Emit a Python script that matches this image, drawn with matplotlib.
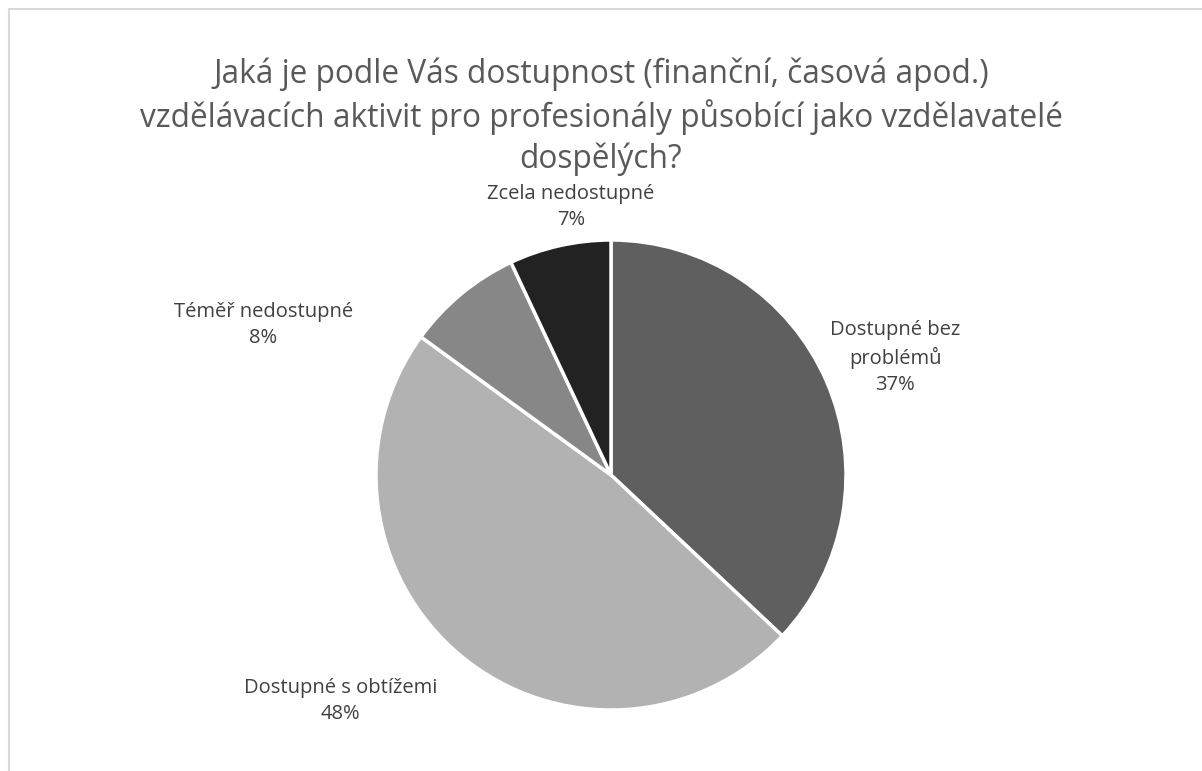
import numpy as np
import matplotlib.pyplot as plt
from matplotlib.patches import Rectangle

# data
categories = ['Dostupné bez\nproblémů', 'Dostupné s obtížemi', 'Téměř nedostupné', 'Zcela nedostupné']
values = [37, 48, 8, 7]
colors = ['#5f5f5f', '#b2b2b2', '#878787', '#222222']
# label centres in units of the pie radius
label_pos = [(1.21, 0.50), (-1.15, -0.96), (-1.48, 0.64), (-0.17, 1.14)]

plt.rcParams['font.family'] = ['Open Sans', 'DejaVu Sans']

fig = plt.figure(figsize=(12.02, 7.71), dpi=100)
W, H = 1202, 771

# light chart frame (cropped at right and bottom)
fig.patches.append(Rectangle((9 / W, -0.1), 1.2, (771 - 9) / H + 0.1,
                             transform=fig.transFigure, fill=False,
                             edgecolor='#d9d9d9', linewidth=1.5))

fig.text(601 / W, 1 - 117 / H,
         'Jaká je podle Vás dostupnost (finanční, časová apod.)\n'
         'vzdělávacích aktivit pro profesionály působící jako vzdělavatelé\n'
         'dospělých?',
         ha='center', va='center', fontsize=22.8, color='#595959',
         linespacing=1.3)

r = 235
cx, cy = 611, 475
ax = fig.add_axes([(cx - r) / W, 1 - (cy + r) / H, 2 * r / W, 2 * r / H])
wedges, _ = ax.pie(values, colors=colors, startangle=90, counterclock=False,
                   radius=1, wedgeprops=dict(edgecolor='white', linewidth=2.5))
ax.set_xlim(-1, 1)
ax.set_ylim(-1, 1)
ax.set_aspect('equal')
ax.axis('off')

for cat, v, (lx, ly) in zip(categories, values, label_pos):
    ax.text(lx, ly, f'{cat}\n{v}%', ha='center', va='center', fontsize=14.5,
            color='#404040', linespacing=1.4, clip_on=False)

fig.savefig('out.png', dpi=100)
